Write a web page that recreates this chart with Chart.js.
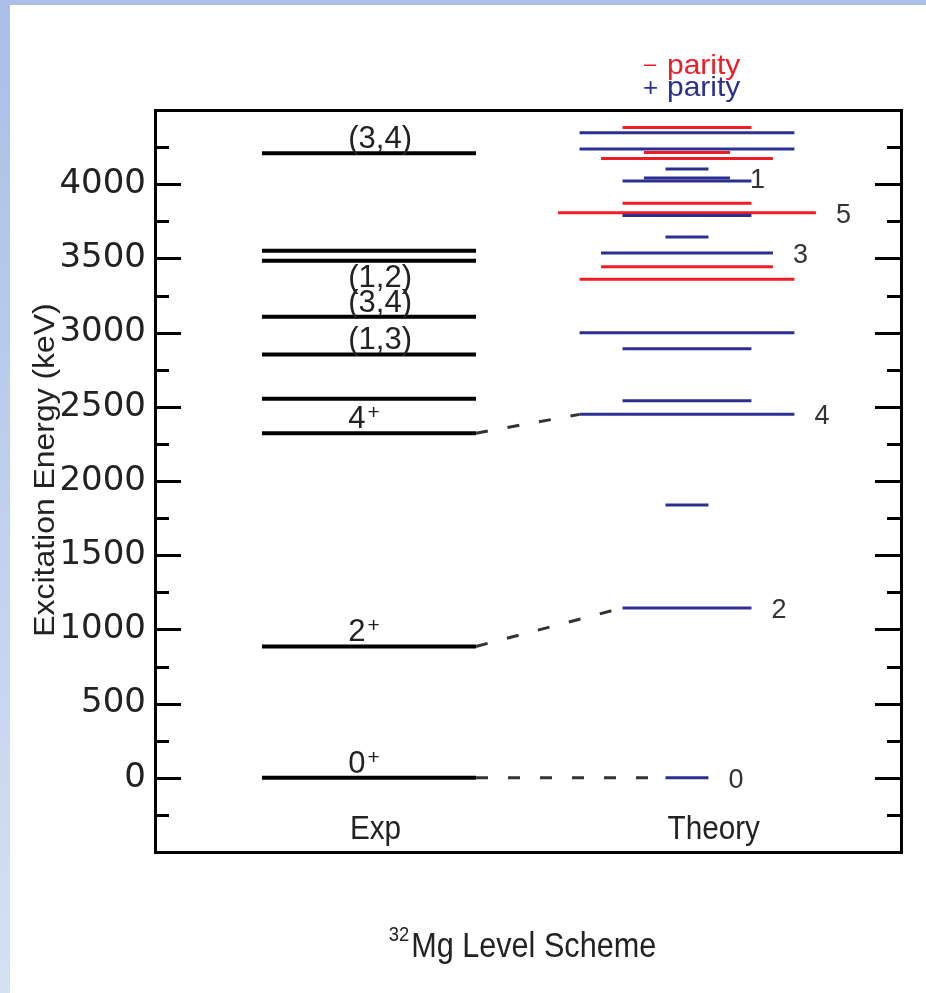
<!DOCTYPE html>
<html><head><meta charset="utf-8">
<script src="https://cdn.jsdelivr.net/npm/chart.js@4.4.1/dist/chart.umd.min.js"></script>
<style>
html,body{margin:0;padding:0;background:#fff;width:926px;height:993px;overflow:hidden;}
#left{position:absolute;left:0;top:0;width:10px;height:993px;background:linear-gradient(#a9bfe8,#d5e0f3);}
#top{position:absolute;left:0;top:0;width:926px;height:5px;background:#aac0e8;}
canvas{position:absolute;left:0;top:0;}
</style></head><body>
<div id="left"></div><div id="top"></div>
<canvas id="c" width="926" height="993"></canvas>
<script>
// ---------- data ----------
const expEnergies = [0, 885, 2322, 2554, 2853, 3106, 3484, 3551, 4209];
const expLabelText = ['0', '2', '4', '(1,3)', '(3,4)', '(1,2)', '(3,4)'];
const expLabelSup = ['+', '+', '+', '', '', '', ''];
const expLabelEnergy = [0, 885, 2322, 2853, 3106, 3106, 4209];

const thEnergies = [0, 1145, 1838, 2449, 2541, 2891, 2999, 3360, 3443, 3537, 3645, 3789, 3807, 3872, 4022, 4042, 4103, 4173, 4213, 4238, 4346, 4382];
const thSpins    = [0, 2,    0,    4,    2,    2,    4,    4,    3,    3,    0,    2,    5,    2,    2,    1,    0,    3,    1,    4,    4,    2];
const thParity   = ['+','+','+','+','+','+','+','-','-','+','+','+','-','-','+','+','+','-','-','+','+','-'];
const thLabeled  = [0, 1145, 2449, 3537, 3807, 4042];

const connFrom = [0, 885, 2322];
const connTo   = [0, 1145, 2449];

const yTickValues = [0, 500, 1000, 1500, 2000, 2500, 3000, 3500, 4000];
const columnNames = ['Exp', 'Theory'];
const legendText = ['parity', 'parity'];

// ---------- layout constants ----------
const EXP_L = 14.34, EXP_R = 43.03;     // exp column extent (x units 0..100)
const TH_C = 71.31, TH_HW = 2.88;       // theory centre, half width per (J+1)
const EXP_LABEL_X = 25.9;
const COL_X = [29.56, 74.9];
const RED = '#ee1c25', BLUE = '#2b3090';

const thLeft = i => TH_C - TH_HW * (thSpins[i] + 1);
const thRight = i => TH_C + TH_HW * (thSpins[i] + 1);

const datasets = [];
// dashed connectors
connFrom.forEach((e, k) => {
  const ti = thEnergies.indexOf(connTo[k]);
  datasets.push({data: [{x: EXP_R, y: e}, {x: thLeft(ti), y: connTo[k]}],
    borderColor: '#333', borderWidth: 3, borderDash: [12, 20], showLine: true, pointRadius: 0});
});
// experimental levels
expEnergies.forEach(e => datasets.push({data: [{x: EXP_L, y: e}, {x: EXP_R, y: e}],
  borderColor: '#000', borderWidth: 4, showLine: true, pointRadius: 0}));
// theory levels
thEnergies.forEach((e, i) => datasets.push({data: [{x: thLeft(i), y: e}, {x: thRight(i), y: e}],
  borderColor: thParity[i] === '+' ? BLUE : RED, borderWidth: 3, showLine: true, pointRadius: 0}));

const SANS = '"Liberation Sans", Arial, Helvetica, sans-serif';
function txt(ctx, s, x, y, size, color, sx, align) {
  ctx.save();
  ctx.translate(x, y); ctx.scale(sx || 1, 1);
  ctx.font = size + 'px ' + SANS;
  ctx.fillStyle = color; ctx.textAlign = align || 'left'; ctx.textBaseline = 'alphabetic';
  ctx.fillText(s, 0, 0);
  const w = ctx.measureText(s).width * (sx || 1);
  ctx.restore();
  return w;
}

const deco = {
  id: 'deco',
  afterDraw(chart) {
    const ctx = chart.ctx, a = chart.chartArea, xs = chart.scales.x, ys = chart.scales.y;
    ctx.save();
    ctx.strokeStyle = '#000'; ctx.lineWidth = 3; ctx.lineCap = 'butt';
    ys.ticks.forEach(t => {
      if (t.value <= ys.min || t.value >= ys.max) return;
      const y = Math.round(ys.getPixelForValue(t.value)) + 0.5;
      const len = t.value % 500 === 0 ? 26 : 14;
      ctx.beginPath();
      ctx.moveTo(a.left, y); ctx.lineTo(a.left + len, y);
      ctx.moveTo(a.right, y); ctx.lineTo(a.right - len, y);
      ctx.stroke();
    });
    ctx.strokeRect(a.left + 0.5, a.top + 0.5, a.right - a.left, a.bottom - a.top);
    ctx.restore();

    // exp labels (stacked when several on one level)
    const seen = {};
    expLabelText.forEach((s, i) => {
      const e = expLabelEnergy[i];
      const k = seen[e] || 0; seen[e] = k + 1;
      const x = xs.getPixelForValue(EXP_LABEL_X);
      const y = ys.getPixelForValue(e) - 5 - k * 25;
      const w = txt(ctx, s, x, y, 31, '#222', 1);
      if (expLabelSup[i]) txt(ctx, expLabelSup[i], x + w + 2, y - 9, 21, '#222', 1);
    });
    // theory labels
    thLabeled.forEach(e => {
      const i = thEnergies.indexOf(e);
      txt(ctx, String(thSpins[i]), xs.getPixelForValue(thRight(i)) + 20, ys.getPixelForValue(e) + 10, 27, '#333', 1);
    });
    // column names
    const yb = ys.getPixelForValue(ys.min) - 13;
    columnNames.forEach((s, i) => txt(ctx, s, xs.getPixelForValue(COL_X[i]), yb, 33, '#222', 0.9, 'center'));

    // legend
    txt(ctx, '\u2013', 644, 71, 22, RED, 1);
    txt(ctx, legendText[0], 667, 74, 28, RED, 1.07);
    txt(ctx, '+', 643, 96, 26, BLUE, 1);
    txt(ctx, legendText[1], 667, 96, 28, BLUE, 1.07);

    // y title
    ctx.save();
    ctx.translate(46, 470); ctx.rotate(-Math.PI / 2); ctx.scale(1.1, 1);
    ctx.font = '29px ' + SANS; ctx.fillStyle = '#222'; ctx.textAlign = 'center'; ctx.textBaseline = 'middle';
    ctx.fillText('Excitation Energy (keV)', 0, 0);
    ctx.restore();

    // bottom title
    const supW = 21 * 0.875 * 1.112, mainW = (() => { ctx.save(); ctx.font = '35px ' + SANS; const w = ctx.measureText('Mg Level Scheme').width * 0.875; ctx.restore(); return w; })();
    const x0 = 522.5 - (supW + 2 + mainW) / 2;
    const sw = txt(ctx, '32', x0, 941, 21, '#222', 0.875);
    txt(ctx, 'Mg Level Scheme', x0 + sw + 2, 957, 35, '#222', 0.875);
  }
};

new Chart(document.getElementById('c'), {
  type: 'scatter',
  data: {datasets},
  options: {
    responsive: false, animation: false, devicePixelRatio: 1,
    layout: {padding: {left: 0, right: 25, top: 110, bottom: 141}},
    plugins: {legend: {display: false}, tooltip: {enabled: false}},
    scales: {
      x: {type: 'linear', min: 0, max: 100, display: false},
      y: {type: 'linear', min: -500, max: 4500,
        grid: {display: false, drawTicks: false}, border: {display: false},
        afterFit: s => { s.width = 155; },
        ticks: {stepSize: 250, autoSkip: false, padding: 9, color: '#222',
          font: {family: '"DejaVu Sans", sans-serif', size: 34},
          callback: v => yTickValues.includes(v) ? String(v) : ''}}
    }
  },
  plugins: [deco]
});
</script>
</body></html>
